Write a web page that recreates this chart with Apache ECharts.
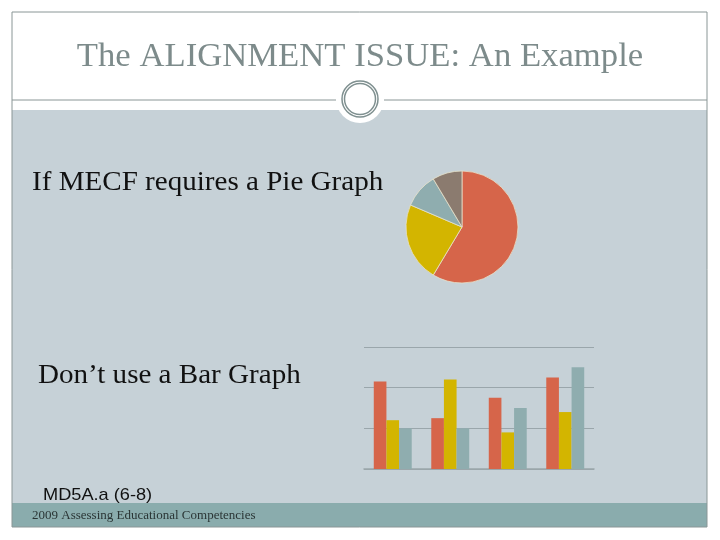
<!DOCTYPE html>
<html><head><meta charset="utf-8">
<script src="https://cdn.jsdelivr.net/npm/echarts@6/dist/echarts.min.js"></script>
<style>html,body{margin:0;padding:0;background:#fff}#c{width:720px;height:540px}</style>
</head><body><div id="c"></div>
<script>
const pieNames = ['1st Qtr','2nd Qtr','3rd Qtr','4th Qtr'];
const pieValues = [8.2, 3.2, 1.4, 1.2];
const barCategories = ['Category 1','Category 2','Category 3','Category 4'];
const series1 = [4.3, 2.5, 3.5, 4.5];
const series2 = [2.4, 4.4, 1.8, 2.8];
const series3 = [2, 2, 3, 5];
const yTicks = [0, 2, 4, 6];

const red = '#d6654a', yellow = '#d3b500', teal = '#8fadaf', brown = '#8b7b6f';
const chart = echarts.init(document.getElementById('c'));
const serif = '"Liberation Serif", "DejaVu Serif", serif';
chart.setOption({
  animation: false,
  backgroundColor: '#ffffff',
  graphic: [
    {type:'rect', z:-10, shape:{x:12,y:110,width:695,height:393}, style:{fill:'#c6d1d7'}},
    {type:'rect', z:-10, shape:{x:12,y:503,width:695,height:24}, style:{fill:'#8aacad'}},
    {type:'rect', z:-9, shape:{x:12,y:12,width:695,height:515}, style:{fill:'none',stroke:'#8a9696',lineWidth:1}},
    {type:'line', z:-9, shape:{x1:12,y1:100,x2:336,y2:100}, style:{stroke:'#8a9696',lineWidth:1}},
    {type:'line', z:-9, shape:{x1:384,y1:100,x2:707,y2:100}, style:{stroke:'#8a9696',lineWidth:1}},
    {type:'circle', z:-8, shape:{cx:360,cy:99,r:24}, style:{fill:'#ffffff'}},
    {type:'circle', z:-7, shape:{cx:360,cy:99,r:18}, style:{fill:'none',stroke:'#7f9090',lineWidth:1.5}},
    {type:'circle', z:-7, shape:{cx:360,cy:99,r:15.5}, style:{fill:'none',stroke:'#7f9090',lineWidth:1.5}},
    {type:'text', x:360, y:57, scaleX:1.02, style:{text:'The ALIGNMENT ISSUE: An Example', font:'34px '+serif, fill:'#7d8b8b', align:'center', verticalAlign:'middle'}},
    {type:'text', x:32, y:183, scaleX:1.077, style:{text:'If MECF requires a Pie Graph', font:'27px '+serif, fill:'#111', verticalAlign:'middle'}},
    {type:'text', x:38, y:376, scaleX:1.077, style:{text:'Don\u2019t use a Bar Graph', font:'27px '+serif, fill:'#111', verticalAlign:'middle'}},
    {type:'text', x:43, y:495, scaleX:1.07, style:{text:'MD5A.a (6-8)', font:'17px "Liberation Sans", Arial, sans-serif', fill:'#111', verticalAlign:'middle'}},
    {type:'text', x:32, y:516, style:{text:'2009 Assessing Educational Competencies', font:'13px '+serif, fill:'#2a3535', verticalAlign:'middle'}}
  ],
  grid: {left:364, right:126, top:347, bottom:71},
  xAxis: {type:'category', data:barCategories, axisLine:{show:true,lineStyle:{color:'#9aa6ab',width:1.5}}, axisTick:{show:false}, axisLabel:{show:false}},
  yAxis: {type:'value', min:yTicks[0], max:yTicks[yTicks.length-1], interval:2, axisLine:{show:false}, axisTick:{show:false}, axisLabel:{show:false}, splitLine:{lineStyle:{color:'#9aa6ab',width:1}}},
  series: [
    {type:'bar', data:series1, itemStyle:{color:red}, barGap:'0%', barCategoryGap:'34%'},
    {type:'bar', data:series2, itemStyle:{color:yellow}, barGap:'0%', barCategoryGap:'34%'},
    {type:'bar', data:series3, itemStyle:{color:teal}, barGap:'0%', barCategoryGap:'34%'},
    {type:'pie', center:[462,227], radius:56, startAngle:90, clockwise:true, label:{show:false}, labelLine:{show:false},
     itemStyle:{borderColor:'#e6e2cc', borderWidth:0.8},
     data: pieNames.map((n,i)=>({name:n, value:pieValues[i], itemStyle:{color:[red,yellow,teal,brown][i]}}))}
  ]
});
</script></body></html>
